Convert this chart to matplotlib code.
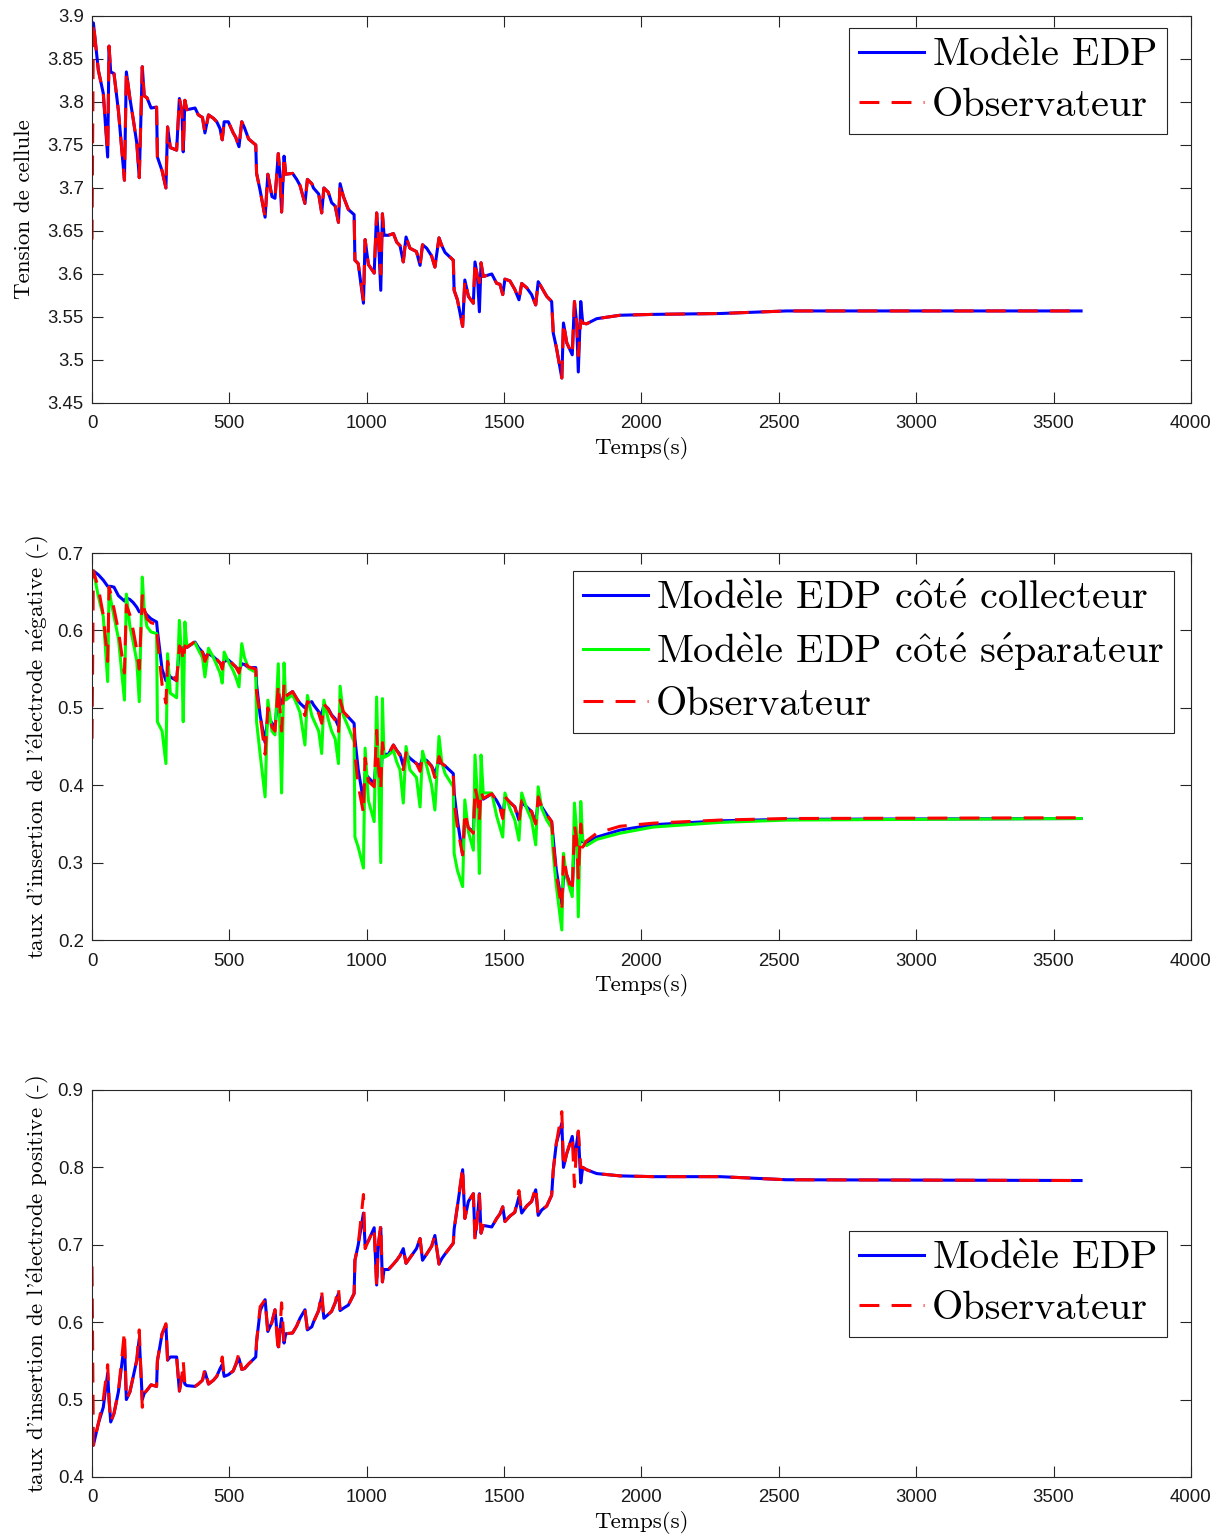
import matplotlib
matplotlib.use('Agg')
import matplotlib.pyplot as plt
from matplotlib.ticker import MultipleLocator, FormatStrFormatter

plt.rcParams['font.family'] = ['Liberation Sans', 'DejaVu Sans']
plt.rcParams['mathtext.fontset'] = 'cm'

# time knots (s), shared by all curves
t = [0, 5, 23, 41, 57, 62, 68, 80, 96, 118, 125, 138, 150, 163, 172, 183, 190, 200, 215, 235,
     238, 255, 269, 275, 285, 308, 318, 327, 332, 338, 345, 375, 387, 402, 411, 424, 442, 454, 466,
     474, 481, 496, 514, 523, 535, 545, 555, 570, 596,
     599, 612, 630, 640, 655, 666, 678, 684, 690, 699, 705, 730, 745, 757, 775, 784, 800, 806, 825,
     836, 844, 860, 872, 885, 897, 903, 915, 933, 954,
     957, 969, 988, 994, 1006, 1027, 1036, 1042, 1051, 1057, 1063, 1079, 1097, 1109, 1121, 1133,
     1143, 1157, 1181, 1194, 1203, 1218, 1236, 1248, 1263, 1273, 1285, 1315,
     1318, 1330, 1349, 1357, 1370, 1388, 1394, 1403, 1410, 1416, 1424, 1455, 1473, 1485, 1495,
     1503, 1521, 1539, 1554, 1564, 1582, 1600, 1615, 1624, 1637, 1655, 1673,
     1679, 1690, 1710, 1716, 1728, 1748, 1756, 1764, 1770, 1779, 1786, 1800, 1837, 1922, 2043,
     2286, 2528, 3600]

# cell voltage, PDE model
v_model = [3.892, 3.892, 3.837, 3.810, 3.736, 3.865, 3.835, 3.833, 3.790, 3.709, 3.835, 3.804,
           3.780, 3.752, 3.712, 3.841, 3.807, 3.805, 3.793, 3.794,
           3.736, 3.720, 3.700, 3.771, 3.747, 3.744, 3.804, 3.790, 3.742, 3.802, 3.791, 3.793,
           3.785, 3.782, 3.764, 3.785, 3.781, 3.777, 3.769, 3.756, 3.777, 3.777, 3.764, 3.759,
           3.748, 3.777, 3.770, 3.757, 3.750,
           3.717, 3.697, 3.666, 3.716, 3.690, 3.688, 3.740, 3.715, 3.672, 3.737, 3.716, 3.717,
           3.710, 3.703, 3.682, 3.710, 3.705, 3.700, 3.693, 3.671, 3.700, 3.695, 3.683, 3.679,
           3.660, 3.705, 3.690, 3.675, 3.669,
           3.616, 3.612, 3.566, 3.640, 3.611, 3.601, 3.671, 3.645, 3.581, 3.670, 3.645, 3.645,
           3.647, 3.637, 3.633, 3.614, 3.643, 3.630, 3.626, 3.610, 3.634, 3.630, 3.621, 3.608,
           3.642, 3.633, 3.625, 3.616,
           3.581, 3.570, 3.539, 3.593, 3.574, 3.566, 3.614, 3.597, 3.556, 3.613, 3.597, 3.600,
           3.589, 3.588, 3.576, 3.594, 3.592, 3.582, 3.570, 3.589, 3.584, 3.576, 3.564, 3.591,
           3.584, 3.574, 3.568,
           3.531, 3.515, 3.479, 3.543, 3.520, 3.506, 3.568, 3.543, 3.486, 3.568, 3.543, 3.542,
           3.548, 3.552, 3.553, 3.554, 3.557, 3.557]
# observer: same as model except at these times
v_obs_fix = {0: 3.640, 57: 3.742, 988: 3.570, 1051: 3.600, 1410: 3.590, 1770: 3.505, 1779: 3.546}

# negative electrode, collector side / separator side / observer
cn_coll = [0.677, 0.677, 0.672, 0.665, 0.657, 0.657, 0.657, 0.656, 0.645, 0.638, 0.642, 0.640,
           0.636, 0.630, 0.624, 0.626, 0.625, 0.620, 0.615, 0.611,
           0.600, 0.550, 0.535, 0.545, 0.540, 0.535, 0.578, 0.578, 0.575, 0.580, 0.578, 0.585,
           0.578, 0.572, 0.565, 0.570, 0.566, 0.562, 0.558, 0.555, 0.560, 0.562, 0.556, 0.553,
           0.548, 0.557, 0.556, 0.552, 0.552,
           0.530, 0.490, 0.455, 0.490, 0.480, 0.476, 0.519, 0.510, 0.505, 0.518, 0.515, 0.521,
           0.512, 0.506, 0.500, 0.506, 0.508, 0.504, 0.495, 0.491, 0.504, 0.499, 0.491, 0.486,
           0.476, 0.499, 0.494, 0.488, 0.480,
           0.460, 0.420, 0.380, 0.415, 0.410, 0.402, 0.440, 0.425, 0.405, 0.446, 0.440, 0.440,
           0.452, 0.445, 0.440, 0.425, 0.440, 0.435, 0.428, 0.425, 0.435, 0.432, 0.425, 0.415,
           0.431, 0.428, 0.425, 0.415,
           0.390, 0.355, 0.310, 0.355, 0.345, 0.340, 0.390, 0.383, 0.380, 0.385, 0.382, 0.389,
           0.380, 0.372, 0.359, 0.384, 0.378, 0.372, 0.355, 0.378, 0.372, 0.366, 0.351, 0.380,
           0.372, 0.362, 0.353,
           0.330, 0.290, 0.247, 0.280, 0.284, 0.265, 0.336, 0.322, 0.320, 0.329, 0.327, 0.326,
           0.333, 0.342, 0.349, 0.354, 0.356, 0.357]
cn_sep = [0.677, 0.677, 0.644, 0.618, 0.534, 0.656, 0.640, 0.618, 0.590, 0.510, 0.647, 0.605,
          0.585, 0.560, 0.508, 0.669, 0.626, 0.605, 0.598, 0.596,
          0.482, 0.470, 0.428, 0.570, 0.519, 0.513, 0.613, 0.560, 0.482, 0.611, 0.580, 0.584,
          0.575, 0.565, 0.540, 0.577, 0.565, 0.555, 0.545, 0.532, 0.572, 0.560, 0.548, 0.540,
          0.527, 0.583, 0.565, 0.551, 0.546,
          0.482, 0.440, 0.385, 0.510, 0.470, 0.465, 0.557, 0.470, 0.390, 0.558, 0.510, 0.517,
          0.505, 0.494, 0.452, 0.516, 0.490, 0.485, 0.470, 0.441, 0.510, 0.485, 0.470, 0.460,
          0.428, 0.528, 0.490, 0.475, 0.456,
          0.333, 0.320, 0.293, 0.448, 0.380, 0.353, 0.514, 0.430, 0.300, 0.512, 0.436, 0.439,
          0.445, 0.430, 0.420, 0.377, 0.450, 0.420, 0.410, 0.372, 0.444, 0.425, 0.400, 0.368,
          0.463, 0.430, 0.415, 0.398,
          0.312, 0.290, 0.269, 0.381, 0.340, 0.316, 0.439, 0.385, 0.286, 0.439, 0.390, 0.390,
          0.360, 0.345, 0.333, 0.390, 0.370, 0.355, 0.329, 0.390, 0.370, 0.355, 0.323, 0.398,
          0.370, 0.355, 0.345,
          0.310, 0.270, 0.213, 0.312, 0.280, 0.256, 0.377, 0.340, 0.230, 0.379, 0.330, 0.322,
          0.330, 0.338, 0.346, 0.352, 0.355, 0.357]
cn_obs = [0.460, 0.677, 0.655, 0.620, 0.560, 0.656, 0.648, 0.628, 0.600, 0.545, 0.633, 0.620,
          0.600, 0.575, 0.550, 0.645, 0.628, 0.615, 0.610, 0.608,
          0.590, 0.530, 0.506, 0.560, 0.545, 0.535, 0.580, 0.575, 0.560, 0.580, 0.578, 0.586,
          0.578, 0.572, 0.560, 0.572, 0.567, 0.563, 0.558, 0.550, 0.565, 0.563, 0.556, 0.553,
          0.545, 0.562, 0.558, 0.553, 0.550,
          0.520, 0.490, 0.440, 0.500, 0.475, 0.470, 0.530, 0.500, 0.470, 0.530, 0.515, 0.521,
          0.512, 0.505, 0.490, 0.508, 0.505, 0.502, 0.493, 0.480, 0.505, 0.498, 0.490, 0.484,
          0.468, 0.510, 0.495, 0.488, 0.478,
          0.440, 0.400, 0.364, 0.435, 0.405, 0.398, 0.471, 0.425, 0.396, 0.455, 0.440, 0.440,
          0.452, 0.445, 0.438, 0.420, 0.442, 0.435, 0.428, 0.418, 0.437, 0.432, 0.424, 0.410,
          0.437, 0.428, 0.425, 0.413,
          0.380, 0.345, 0.310, 0.365, 0.345, 0.338, 0.397, 0.383, 0.355, 0.393, 0.383, 0.389,
          0.380, 0.370, 0.357, 0.385, 0.378, 0.372, 0.352, 0.380, 0.372, 0.366, 0.350, 0.385,
          0.372, 0.362, 0.353,
          0.325, 0.285, 0.240, 0.310, 0.284, 0.262, 0.349, 0.330, 0.280, 0.350, 0.320, 0.328,
          0.338, 0.347, 0.351, 0.355, 0.357, 0.358]

# positive electrode, PDE model
cp_model = [0.441, 0.441, 0.469, 0.490, 0.534, 0.500, 0.471, 0.482, 0.510, 0.573, 0.500, 0.510,
            0.530, 0.551, 0.579, 0.500, 0.508, 0.512, 0.519, 0.517,
            0.550, 0.585, 0.596, 0.551, 0.555, 0.555, 0.511, 0.530, 0.530, 0.520, 0.518, 0.517,
            0.520, 0.525, 0.536, 0.520, 0.525, 0.530, 0.540, 0.545, 0.530, 0.532, 0.537, 0.545,
            0.553, 0.539, 0.540, 0.546, 0.555,
            0.575, 0.615, 0.629, 0.588, 0.600, 0.616, 0.568, 0.590, 0.605, 0.573, 0.585, 0.586,
            0.595, 0.605, 0.616, 0.590, 0.594, 0.600, 0.615, 0.633, 0.605, 0.610, 0.614, 0.625,
            0.637, 0.615, 0.618, 0.622, 0.637,
            0.680, 0.700, 0.741, 0.700, 0.705, 0.722, 0.648, 0.700, 0.722, 0.652, 0.668, 0.668,
            0.675, 0.680, 0.686, 0.695, 0.676, 0.683, 0.695, 0.708, 0.680, 0.688, 0.698, 0.712,
            0.675, 0.682, 0.688, 0.702,
            0.720, 0.750, 0.797, 0.734, 0.756, 0.766, 0.710, 0.735, 0.766, 0.715, 0.725, 0.723,
            0.734, 0.740, 0.749, 0.730, 0.737, 0.742, 0.762, 0.741, 0.750, 0.756, 0.771, 0.738,
            0.745, 0.750, 0.764,
            0.797, 0.831, 0.857, 0.800, 0.818, 0.840, 0.810, 0.830, 0.846, 0.780, 0.800, 0.797,
            0.792, 0.789, 0.788, 0.788, 0.784, 0.783]
cp_obs_fix = {0: 0.672, 41: 0.500, 57: 0.545, 118: 0.588, 172: 0.590, 183: 0.490, 269: 0.598,
              332: 0.550, 411: 0.540, 474: 0.555, 535: 0.560, 612: 0.620, 640: 0.585, 678: 0.560,
              690: 0.625, 836: 0.640, 897: 0.645, 988: 0.765, 994: 0.695, 1036: 0.645,
              1051: 0.726, 1349: 0.800, 1394: 0.705, 1410: 0.765, 1554: 0.770, 1615: 0.775,
              1710: 0.872, 1756: 0.775, 1770: 0.847, 1779: 0.800}

assert len(t) == len(v_model) == len(cn_coll) == len(cn_sep) == len(cn_obs) == len(cp_model)


def observer(model, fixes):
    vals = list(model)
    for tt, val in fixes.items():
        vals[t.index(tt)] = val
    return vals


v_obs = observer(v_model, v_obs_fix)
cp_obs = observer(cp_model, cp_obs_fix)

LBL = 'cmr10'
EDGE = '#262626'
LW = 2.2
DASH = (6.5, 4)
lab_model = r'Mod$\mathrm{\grave{e}}$le EDP'
lab_obs = 'Observateur'

fig = plt.figure(figsize=(12.22, 15.38), dpi=100)
ax1 = fig.add_axes([0.0753, 0.7380, 0.8993, 0.2516])
ax2 = fig.add_axes([0.0753, 0.3888, 0.8993, 0.2516])
ax3 = fig.add_axes([0.0753, 0.0397, 0.8993, 0.2516])


def style(ax, ylim, ystep, ylabel, ypad):
    ax.set_xlim(0, 4000)
    ax.set_ylim(*ylim)
    ax.xaxis.set_major_locator(MultipleLocator(500))
    ax.yaxis.set_major_locator(MultipleLocator(ystep))
    ax.yaxis.set_major_formatter(FormatStrFormatter('%g'))
    ax.tick_params(direction='in', length=8, width=0.8, top=True, right=True,
                   labelsize=13.4, color=EDGE, labelcolor='#1a1a1a')
    ax.tick_params(axis='x', pad=9)
    ax.tick_params(axis='y', pad=6)
    for sp in ax.spines.values():
        sp.set_color(EDGE)
        sp.set_linewidth(0.8)
    ax.set_xlabel('Temps(s)', family=LBL, fontsize=16.6, labelpad=3)
    ax.set_ylabel(ylabel, family=LBL, fontsize=16.6, labelpad=ypad)


def legend(ax, anchor):
    leg = ax.legend(loc='upper right', bbox_to_anchor=anchor, borderaxespad=0,
                    prop={'family': LBL, 'size': 29}, fancybox=False, edgecolor=EDGE,
                    framealpha=1, handlelength=1.6, handletextpad=0.2, borderpad=0.25,
                    labelspacing=0.33)
    leg.get_frame().set_linewidth(0.8)


# cell voltage
ax1.plot(t, v_model, color='b', lw=LW, label=lab_model)
ax1.plot(t, v_obs, color='r', lw=LW, ls='--', dashes=DASH, label=lab_obs)
style(ax1, (3.45, 3.9), 0.05, 'Tension de cellule', 9.5)
legend(ax1, (0.978, 0.969))

# negative electrode
ax2.plot(t, cn_coll, color='b', lw=LW,
         label=r'Mod$\mathrm{\grave{e}}$le EDP c$\mathrm{\hat{o}}$t$\mathrm{\acute{e}}$ collecteur')
ax2.plot(t, cn_sep, color='#00ff00', lw=LW,
         label=r'Mod$\mathrm{\grave{e}}$le EDP c$\mathrm{\hat{o}}$t$\mathrm{\acute{e}}$ s$\mathrm{\acute{e}}$parateur')
ax2.plot(t, cn_obs, color='r', lw=LW, ls='--', dashes=DASH, label=lab_obs)
style(ax2, (0.2, 0.7), 0.1,
      r"taux d'insertion de l'$\mathrm{\acute{e}}$lectrode n$\mathrm{\acute{e}}$gative (-)", 4)
legend(ax2, (0.9845, 0.9535))

# positive electrode
ax3.plot(t, cp_model, color='b', lw=LW, label=lab_model)
ax3.plot(t, cp_obs, color='r', lw=LW, ls='--', dashes=DASH, label=lab_obs)
style(ax3, (0.4, 0.9), 0.1,
      r"taux d'insertion de l'$\mathrm{\acute{e}}$lectrode positive (-)", 4)
legend(ax3, (0.978, 0.6357))

fig.savefig('out.png', dpi=100)
